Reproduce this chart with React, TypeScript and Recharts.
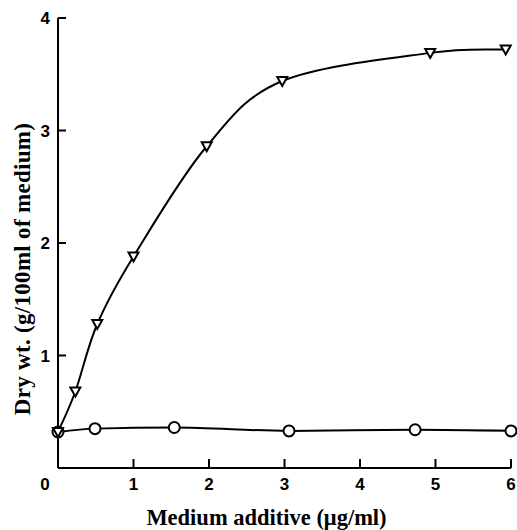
import React from 'react';
import { LineChart, Line, XAxis, YAxis, Label } from 'recharts';

// Series with medium additive (triangles)
const triX = [0, 0.23, 0.52, 1.0, 1.97, 2.97, 4.93, 5.93];
const triY = [0.32, 0.68, 1.28, 1.88, 2.86, 3.44, 3.69, 3.72];
// Control series (circles)
const circX = [0, 0.49, 1.54, 3.06, 4.73, 6.0];
const circY = [0.32, 0.35, 0.36, 0.33, 0.34, 0.33];

const xTicks = [0, 1, 2, 3, 4, 5, 6];
const yTicks = [1, 2, 3, 4];
const xTitle = 'Medium additive (\u03bcg/ml)';
const yTitle = 'Dry wt. (g/100ml of medium)';

const triData = triX.map((x, i) => ({ x, y: triY[i] }));
const circData = circX.map((x, i) => ({ x, y: circY[i] }));

const FONT = '"Liberation Serif", serif';
const TICKFONT = '"Liberation Sans", sans-serif';

// smooth Catmull-Rom style curve through the points (drawing style only)
const smoothCurve = (context: any) => {
  let pts: [number, number][] = [];
  return {
    areaStart() {},
    areaEnd() {},
    lineStart() {
      pts = [];
    },
    lineEnd() {
      if (!pts.length) return;
      context.moveTo(pts[0][0], pts[0][1]);
      const t = 1 / 6;
      for (let i = 0; i < pts.length - 1; i++) {
        const p0 = pts[Math.max(i - 1, 0)];
        const p1 = pts[i];
        const p2 = pts[i + 1];
        const p3 = pts[Math.min(i + 2, pts.length - 1)];
        context.bezierCurveTo(
          p1[0] + (p2[0] - p0[0]) * t,
          p1[1] + (p2[1] - p0[1]) * t,
          p2[0] - (p3[0] - p1[0]) * t,
          p2[1] - (p3[1] - p1[1]) * t,
          p2[0],
          p2[1]
        );
      }
    },
    point(x: number, y: number) {
      pts.push([+x, +y]);
    },
  };
};

const TriDot = (props: any) => {
  const { cx, cy } = props;
  if (cx == null || cy == null) return null;
  const w = 5;
  return (
    <path
      d={`M${cx - w},${cy - 4} L${cx + w},${cy - 4} L${cx},${cy + 5} Z`}
      fill="#fff"
      stroke="#000"
      strokeWidth={2}
    />
  );
};

const CircDot = (props: any) => {
  const { cx, cy } = props;
  if (cx == null || cy == null) return null;
  return <circle cx={cx} cy={cy} r={5.5} fill="#fff" stroke="#000" strokeWidth={2} />;
};

const XTick = (props: any) => {
  const { x, y, payload } = props;
  const axisY = y - 8;
  const isZero = payload.value === 0;
  return (
    <g>
      {!isZero && <line x1={x} x2={x} y1={axisY} y2={axisY - 9} stroke="#000" strokeWidth={2} />}
      <text
        x={isZero ? x - 13 : x}
        y={axisY + 22}
        textAnchor="middle"
        fontFamily={TICKFONT}
        fontWeight="bold"
        fontSize={17}
        fill="#000"
      >
        {payload.value}
      </text>
    </g>
  );
};

const YTick = (props: any) => {
  const { x, y, payload } = props;
  const axisX = x + 8;
  return (
    <g>
      <line x1={axisX} x2={axisX + 8} y1={y} y2={y} stroke="#000" strokeWidth={2} />
      <text
        x={axisX - 8}
        y={y + 6}
        textAnchor="end"
        fontFamily={TICKFONT}
        fontWeight="bold"
        fontSize={17}
        fill="#000"
      >
        {payload.value}
      </text>
    </g>
  );
};

export default function App() {
  return (
    <div style={{ position: 'absolute', left: 0, top: 0, background: '#fff' }}>
      <LineChart
        width={517}
        height={530}
        margin={{ top: 18, right: 6, bottom: 0, left: 0 }}
      >
        <XAxis
          type="number"
          dataKey="x"
          domain={[0, 6]}
          ticks={xTicks}
          interval={0}
          allowDuplicatedCategory={false}
          tickLine={false}
          tickSize={0}
          tickMargin={8}
          tick={<XTick />}
          height={62}
          axisLine={{ stroke: '#000', strokeWidth: 2 }}
        >
          <Label
            content={(p: any) => {
              const vb = p.viewBox;
              return (
                <text
                  x={vb.x + vb.width / 2 - 18}
                  y={vb.y + 57}
                  textAnchor="middle"
                  fontFamily={FONT}
                  fontWeight="bold"
                  fontSize={22.5}
                  fill="#000"
                >
                  {xTitle}
                </text>
              );
            }}
          />
        </XAxis>
        <YAxis
          type="number"
          dataKey="y"
          domain={[0, 4]}
          ticks={yTicks}
          interval={0}
          tickLine={false}
          tickSize={0}
          tickMargin={8}
          tick={<YTick />}
          width={58}
          axisLine={{ stroke: '#000', strokeWidth: 2 }}
        >
          <Label
            content={(p: any) => {
              const vb = p.viewBox;
              const cx = vb.x + 30;
              const cy = vb.y + vb.height / 2 + 26;
              return (
                <text
                  x={cx}
                  y={cy}
                  transform={`rotate(-90, ${cx}, ${cy})`}
                  textAnchor="middle"
                  fontFamily={FONT}
                  fontWeight="bold"
                  fontSize={23}
                  letterSpacing={0.3}
                  fill="#000"
                >
                  {yTitle}
                </text>
              );
            }}
          />
        </YAxis>
        <Line
          data={circData}
          dataKey="y"
          type="monotone"
          stroke="#000"
          strokeWidth={2}
          dot={<CircDot />}
          isAnimationActive={false}
        />
        <Line
          data={triData}
          dataKey="y"
          type={smoothCurve as any}
          stroke="#000"
          strokeWidth={2}
          dot={<TriDot />}
          isAnimationActive={false}
        />
      </LineChart>
    </div>
  );
}
